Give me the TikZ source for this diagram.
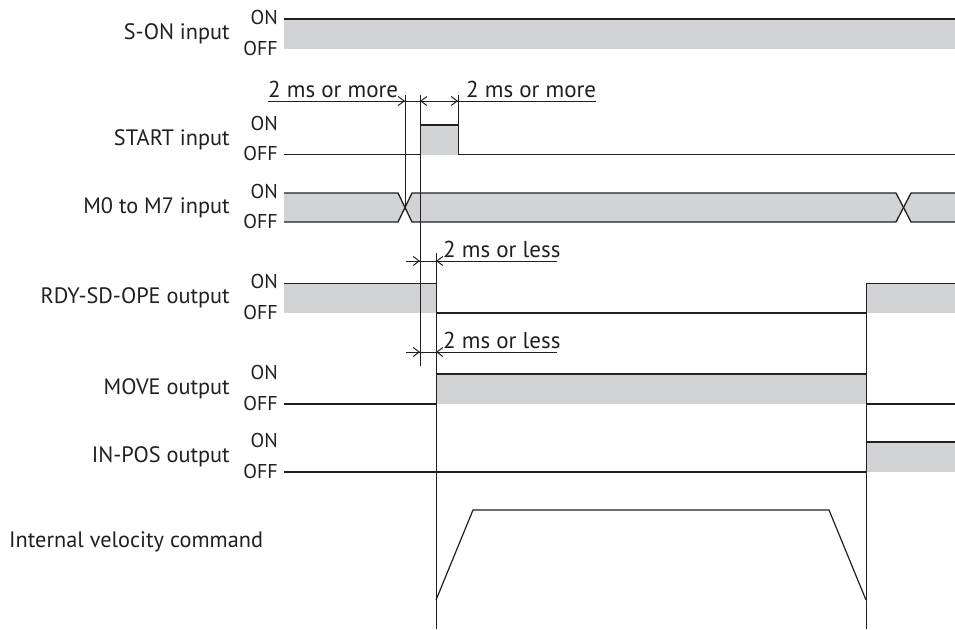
\documentclass[tikz,border=0pt]{standalone}
\usepackage{fontspec}
\setmainfont{PT Sans}
\usetikzlibrary{arrows.meta}
\definecolor{sig}{RGB}{35,31,32}
\definecolor{fillg}{RGB}{209,211,212}
\begin{document}
\begin{tikzpicture}[x=1pt,y=-1pt,
  wire/.style={draw=sig,line width=1.3pt},
  thin/.style={draw=sig,line width=1pt},
  hifill/.style={fill=fillg},
  lbl/.style={anchor=east,inner sep=0pt,font=\fontsize{22.3}{26}\selectfont,text=sig},
  lvl/.style={anchor=east,inner sep=0pt,font=\fontsize{20}{24}\selectfont,text=sig},
  dimtxt/.style={anchor=south west,inner sep=0pt,font=\fontsize{23}{26}\selectfont,text=sig},
  barb/.style={thin,-{Straight Barb[length=6pt,width=9pt,line width=1pt]}}]
\useasboundingbox (0,0) rectangle (955,629);

% ---------- labels ----------
\node[lbl] (lson) at (230,34) {S-ON input};
\node[lbl] (lstart) at (230,140) {START input};
\node[lbl] (lm) at (230,208) {M0 to M7 input};
\node[lbl] (lrdy) at (230,298) {RDY-SD-OPE output};
\node[lbl] (lmove) at (230,389) {MOVE output};
\node[lbl] (lin) at (230,457) {IN-POS output};
\node[lbl,anchor=west] (lvel) at (9,542) {Internal velocity command};
\foreach \n/\h/\l in {son/19/49,start/125/154.5,m/193/222,rdy/283.5/313,move/374/404,in/442/472}{
  \node[lvl] (on\n) at (278,\h-2) {ON};
  \node[lvl] (off\n) at (278,\l-1) {OFF};
}

% ---------- S-ON ----------
\fill[hifill] (284,19) rectangle (955,49);
\coordinate (sonA) at (284,19); \coordinate (sonB) at (955,19);
\draw[wire] (sonA) -- (sonB);

% ---------- START ----------
\fill[hifill] (420,125) rectangle (458,154.5);
\coordinate (stA) at (284,154.5); \coordinate (stR) at (420,154.5);
\coordinate (stRt) at (420,125); \coordinate (stFt) at (458,125);
\coordinate (stF) at (458,154.5); \coordinate (stE) at (955,154.5);
\draw[wire] (stA) -- (stR) (stRt) -- (stFt) (stF) -- (stE);

% ---------- M0 to M7 ----------
\fill[hifill] (284,193) -- (398,193) -- (405,207.5) -- (398,222) -- (284,222) -- cycle;
\fill[hifill] (405,207.5) -- (412,193) -- (896,193) -- (903.5,207.5) -- (896,222) -- (412,222) -- cycle;
\fill[hifill] (903.5,207.5) -- (911,193) -- (955,193) -- (955,222) -- (911,222) -- cycle;
\draw[wire] (284,193) -- (398,193) -- (412,222) -- (896,222) -- (911,193) -- (955,193);
\draw[wire] (284,222) -- (398,222) -- (412,193) -- (896,193) -- (911,222) -- (955,222);

% ---------- RDY-SD-OPE ----------
\fill[hifill] (284,283.5) rectangle (436,313);
\fill[hifill] (866,283.5) rectangle (955,313);
\draw[wire] (284,283.5) -- (436,283.5);
\draw[wire] (436,313) -- (866,313);
\draw[wire] (866,283.5) -- (955,283.5);

% ---------- MOVE ----------
\fill[hifill] (436,374) rectangle (866,404);
\draw[wire] (284,404) -- (436,404);
\draw[wire] (436,374) -- (866,374);
\draw[wire] (866,404) -- (955,404);

% ---------- IN-POS ----------
\fill[hifill] (866,442) rectangle (955,472);
\draw[wire] (284,472) -- (866,472);
\draw[wire] (866,442) -- (955,442);

% ---------- velocity ----------
\coordinate (v0) at (436,600); \coordinate (v1) at (473,510);
\coordinate (v2) at (829,510); \coordinate (v3) at (866,600);
\draw[thin,line width=1.2pt,line join=round] (v0) -- (v1) -- (v2) -- (v3);

% ---------- timing verticals ----------
\coordinate (t1a) at (405,95);  \coordinate (t1b) at (405,207.5);
\coordinate (t2a) at (420,95);  \coordinate (t2b) at (420,366);
\coordinate (t3a) at (458,95);  \coordinate (t3b) at (458,154.5);
\coordinate (t4a) at (436,253); \coordinate (t4b) at (436,629);
\coordinate (t5a) at (866,283.5); \coordinate (t5b) at (866,629);
\draw[thin] (t1a) -- (t1b);
\draw[thin] (t2a) -- (t2b);
\draw[thin] (t3a) -- (t3b);
\draw[thin] (t4a) -- (t4b);
\draw[thin] (t5a) -- (t5b);

% ---------- dimension 2 ms or more ----------
\coordinate (d1s) at (268,101); \coordinate (d1e) at (596,101);
\draw[thin] (d1s) -- (d1e);
\draw[barb] (397,101) -- (405,101);
\draw[barb] (428,101) -- (420,101);
\draw[barb] (450,101) -- (458,101);
\node[dimtxt] (m1) at (268,98) {2 ms or more};
\node[dimtxt] (m2) at (466,98) {2 ms or more};

% ---------- dimension 2 ms or less ----------
\coordinate (d2s) at (406,261); \coordinate (d2e) at (557,261);
\draw[thin] (d2s) -- (d2e);
\draw[barb] (412,261) -- (420,261);
\draw[barb] (444,261) -- (436,261);
\node[dimtxt] (l1) at (443,258) {2 ms or less};

\coordinate (d3s) at (406,352); \coordinate (d3e) at (557,352);
\draw[thin] (d3s) -- (d3e);
\draw[barb] (412,352) -- (420,352);
\draw[barb] (444,352) -- (436,352);
\node[dimtxt] (l2) at (443,349) {2 ms or less};
\end{tikzpicture}
\end{document}
